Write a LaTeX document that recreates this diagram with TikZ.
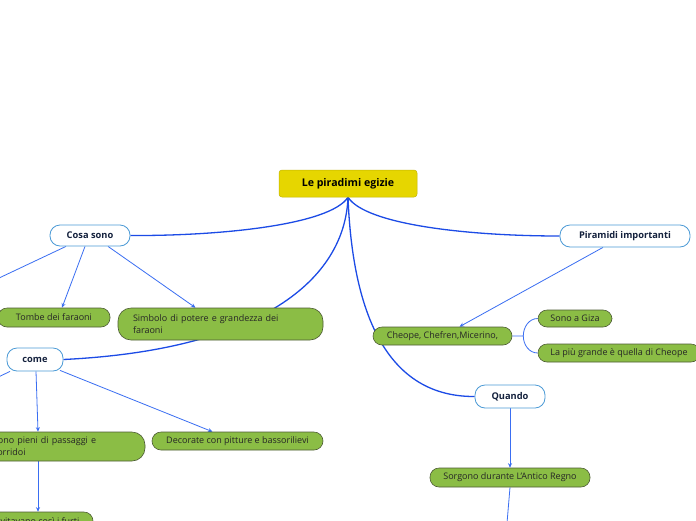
\documentclass[tikz,border=0pt]{standalone}
\usepackage{fontspec}
\setmainfont{Open Sans}
\usetikzlibrary{arrows.meta,backgrounds,calc}
\definecolor{mainblue}{HTML}{1C4BE6}
\definecolor{thinblue}{HTML}{3A6EF2}
\definecolor{topicborder}{HTML}{4B9AD6}
\definecolor{leaf}{HTML}{8BBD45}
\definecolor{leafborder}{HTML}{4D5B35}
\definecolor{titlefill}{HTML}{E6D600}
\definecolor{navy}{HTML}{14213D}
\begin{document}
\begin{tikzpicture}[x=1pt,y=-1pt,
  titlebox/.style={fill=titlefill, draw=titlefill!85!black, line width=0.5pt, rounded corners=3pt, minimum width=138pt, minimum height=27pt, font=\fontsize{10.6}{13}\selectfont\bfseries, inner sep=0pt},
  topic/.style={fill=white, draw=topicborder, line width=0.8pt, rounded corners=10pt, minimum height=22pt, font=\fontsize{9.3}{11}\selectfont\bfseries, text=navy, inner sep=0pt},
  leafbox/.style={fill=leaf, draw=leafborder, line width=0.6pt, rounded corners=9pt, font=\fontsize{9}{12}\selectfont, inner sep=0pt, text=black!85, minimum height=18pt},
  mainline/.style={draw=mainblue, line width=1.3pt},
  thinarrow/.style={draw=thinblue, line width=0.8pt, -{Stealth[length=4.5pt,width=4pt]}},
  plainline/.style={draw=thinblue, line width=0.8pt}
]
\useasboundingbox (0,0) rectangle (696,520);

\node[titlebox] (title) at (348,183.5) {Le piradimi egizie};
\node[topic, minimum width=80pt, minimum height=21pt] (cosa) at (90,235.5) {Cosa sono};
\node[topic, minimum width=130pt] (piram) at (625,236) {Piramidi importanti};
\node[leafbox, minimum width=112pt, minimum height=19pt] (tombe) at (54,317.5) {Tombe dei faraoni};
\node[leafbox, minimum width=205pt, minimum height=32pt, rounded corners=13pt, text width=175pt, align=left] (simbolo) at (220.5,324) {Simbolo di potere e grandezza dei\\faraoni};
\node[leafbox, minimum width=139pt] (cheope) at (442.5,336) {Cheope, Chefren,Micerino,};
\node[leafbox, minimum width=74pt, minimum height=17pt] (giza) at (575,318.5) {Sono a Giza};
\node[leafbox, minimum width=162pt] (grande) at (619,353) {La più grande è quella di Cheope};
\node[topic, minimum width=56pt, minimum height=23pt] (come) at (35,359.5) {come};
\node[topic, minimum width=70pt, minimum height=23pt] (quando) at (510,396.5) {Quando};
\node[leafbox, minimum width=167pt, minimum height=29pt, rounded corners=13pt, text width=137pt, align=left] (pieni) at (61.5,446.5) {Sono pieni di passaggi e\\corridoi};
\node[leafbox, minimum width=171pt] (decorate) at (237.5,441) {Decorate con pitture e bassorilievi};
\node[leafbox, minimum width=160pt, minimum height=19pt] (sorgono) at (510,477.5) {Sorgono durante L'Antico Regno};
\node[leafbox, minimum width=111pt, minimum height=19pt] (evit) at (37.5,521.5) {Evitavano così i furti};

\coordinate (offA) at (-20,287);
\coordinate (offB) at (-12,382);
\coordinate (offC) at (506,535);

\begin{scope}[on background layer]
  \fill[white] (0,0) rectangle (696,520);
  \draw[mainline] (title.south) .. controls (330,225) and (220,236) .. (cosa.east);
  \draw[mainline] (title.south) .. controls (366,225) and (470,236) .. (piram.west);
  \draw[mainline] (title.south) .. controls (345,280) and (260,350) .. (come.east);
  \draw[mainline] (title.south) .. controls (352,300) and (380,397) .. (quando.west);

  \draw[thinarrow] ($(cosa.south)+(-5,0)$) -- ($(tombe.north)+(8,0)$);
  \draw[thinarrow] ($(cosa.south)+(18,0)$) -- ($(simbolo.north)+(-25,0)$);
  \draw[plainline] ($(cosa.south)+(-24,0)$) -- (offA);
  \draw[thinarrow] ($(piram.south)+(-22,0)$) -- ($(cheope.north)+(17,0)$);
  \draw[thinarrow] ($(come.south)+(1,0)$) -- ($(pieni.north)+(-23.5,0)$);
  \draw[thinarrow] ($(come.south)+(25,-1)$) -- ($(decorate.north)+(-25,0)$);
  \draw[plainline] ($(come.south)+(-25,0)$) -- (offB);
  \draw[thinarrow] ($(pieni.south)+(-23.5,0)$) -- ($(evit.north)+(0.5,0)$);
  \draw[thinarrow] (quando.south) -- (sorgono.north);
  \draw[plainline] (sorgono.south) -- (offC);
  \draw[plainline] (cheope.east) -- ++(11,0) coordinate (br)
     to[out=90,in=180] (giza.west);
  \draw[plainline] (br) to[out=-90,in=180] (grande.west);
\end{scope}
\end{tikzpicture}
\end{document}
